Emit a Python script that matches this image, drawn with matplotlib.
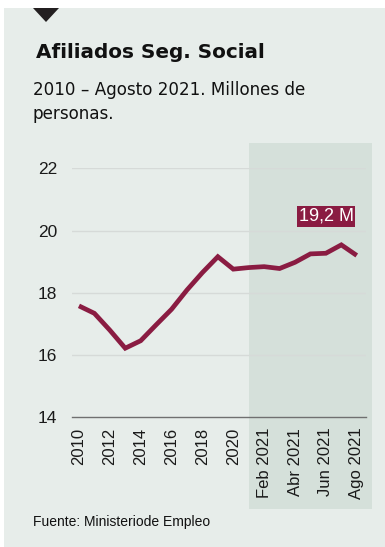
import matplotlib
matplotlib.use("Agg")
import matplotlib.pyplot as plt
import matplotlib.transforms as mtransforms
from matplotlib.patches import Rectangle, Polygon

# data (millones de personas)
periods = ['2010', '2011', '2012', '2013', '2014', '2015', '2016', '2017', '2018', '2019', '2020',
           'Ene 2021', 'Feb 2021', 'Mar 2021', 'Abr 2021', 'May 2021', 'Jun 2021', 'Jul 2021', 'Ago 2021']
values = [17.58, 17.34, 16.80, 16.22, 16.46, 16.97, 17.47, 18.09, 18.65, 19.16, 18.76,
          18.81, 18.84, 18.78, 18.98, 19.25, 19.27, 19.54, 19.20]
shown_ticks = ['2010', '2012', '2014', '2016', '2018', '2020', 'Feb 2021', 'Abr 2021', 'Jun 2021', 'Ago 2021']
y_ticks = [14, 16, 18, 20, 22]
last_label = '19,2 M'

bg = '#e7edea'
shade = '#d5e0da'
wine = '#8a1c42'
plt.rcParams['font.family'] = ['Liberation Sans', 'DejaVu Sans']

fig = plt.figure(figsize=(3.85, 5.47), dpi=100)
fig.patch.set_facecolor('white')
# panel background
fig.patches.append(Rectangle((4 / 385, 0), 1, 1 - 8 / 547, transform=fig.transFigure,
                             facecolor=bg, edgecolor='none', zorder=-10))
# little black marker at the top
fig.patches.append(Polygon([(33 / 385, 1 - 8 / 547), (59 / 385, 1 - 8 / 547), (46 / 385, 1 - 22 / 547)],
                           closed=True, transform=fig.transFigure, facecolor='#231f20',
                           edgecolor='none', zorder=5))

ax = fig.add_axes([72 / 385, 129.7 / 547, 294 / 385, 249 / 547])
ax.set_facecolor('none')
x = list(range(len(periods)))

# shaded 2021 band, spans beyond the axes
trans = mtransforms.blended_transform_factory(ax.transData, fig.transFigure)
x0 = periods.index('Ene 2021') + 0.05
ax.add_patch(Rectangle((x0, 1 - 509 / 547), len(periods) - 0.03 - x0, (509 - 143) / 547,
                       transform=trans, facecolor=shade, edgecolor='none', clip_on=False, zorder=0))

ax.plot(x, values, color=wine, lw=3.4, solid_joinstyle='miter', solid_capstyle='butt', zorder=3)

ax.set_xlim(-0.45, 18.6)
ax.set_ylim(14, 22)
ax.set_yticks(y_ticks)
ax.set_yticklabels([str(v) for v in y_ticks], fontsize=12.5, color='#1a1a1a')
ax.set_xticks([periods.index(p) for p in shown_ticks])
ax.set_xticklabels(shown_ticks, rotation=90, fontsize=12, color='#1a1a1a', va='top')
ax.tick_params(axis='both', length=0)
ax.tick_params(axis='y', pad=10.5)
ax.tick_params(axis='x', pad=7.5)
for v in y_ticks[1:]:
    ax.axhline(v, color='#d6dad8', lw=1, zorder=1)
for s in ['top', 'right', 'left']:
    ax.spines[s].set_visible(False)
ax.spines['bottom'].set_color('#707070')
ax.spines['bottom'].set_linewidth(1)

ax.text(17.8, 20.46, last_label, ha='right', va='center', fontsize=13, color='white',
        zorder=4, bbox=dict(boxstyle='square,pad=0.1', facecolor=wine, edgecolor='none'))

fig.text(36 / 385, 1 - 52 / 547, 'Afiliados Seg. Social', fontsize=14.4, fontweight='bold',
         family='DejaVu Sans', color='#111111', va='center')
fig.text(33 / 385, 1 - 90 / 547, '2010 – Agosto 2021. Millones de', fontsize=12.1,
         family='DejaVu Sans', color='#111111', va='center')
fig.text(33 / 385, 1 - 114 / 547, 'personas.', fontsize=12.1, family='DejaVu Sans',
         color='#111111', va='center')
fig.text(33 / 385, 1 - 522 / 547, 'Fuente: Ministeriode Empleo', fontsize=10,
         color='#111111', va='center')

fig.savefig('out.png', dpi=100, facecolor=fig.get_facecolor())
